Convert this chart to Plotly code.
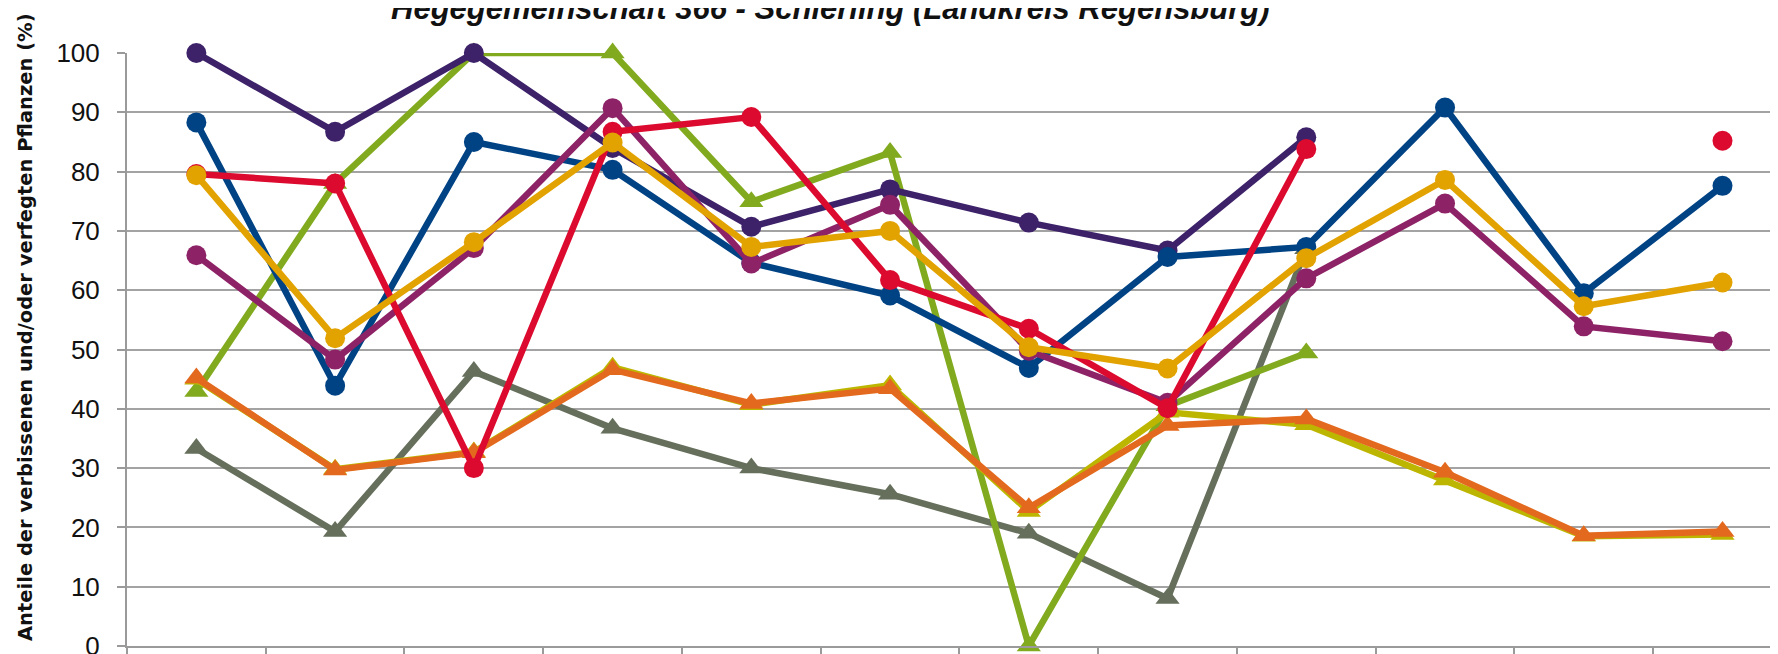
import plotly.graph_objects as go

categories = ["1991", "1994", "1997", "2000", "2003", "2006", "2009", "2012", "2015", "2018", "2021", "2024"]

gray_vals = [33.3, 19.3, 46.3, 36.7, 30.0, 25.6, 19.0, 8.0, 67.0, None, None, None]
green_vals = [42.9, 78.0, 100, 100, 74.9, 83.2, 0, 40.5, 49.4, None, None, None]
olive_vals = [45.0, 29.8, 32.7, 47.0, 40.7, 44.0, 22.7, 39.4, 37.3, 28.0, 18.5, 18.8]
orange_vals = [45.2, 29.7, 32.6, 46.6, 40.9, 43.4, 23.3, 37.2, 38.3, 29.3, 18.6, 19.3]
darkpurple_vals = [100, 86.7, 100, 84.0, 70.7, 77.0, 71.4, 66.7, 85.8, None, None, None]
blue_vals = [88.3, 43.9, 85.0, 80.3, 64.6, 59.1, 46.9, 65.6, 67.3, 90.8, 59.5, 77.6]
magenta_vals = [65.9, 48.3, 67.1, 90.7, 64.5, 74.4, 49.8, 41.0, 62.0, 74.6, 53.9, 51.4]
red_vals = [79.6, 78.0, 30.0, 86.7, 89.2, 61.7, 53.5, 40.1, 83.8, None, None, 85.2]
yellow_vals = [79.4, 51.9, 68.1, 84.9, 67.3, 70.0, 50.4, 46.8, 65.4, 78.6, 57.3, 61.3]

title_text = "Hegegemeinschaft 366 - Schierling (Landkreis Regensburg)"
ytitle_text = "Anteile der verbissenen und/oder verfegten Pflanzen (%)"

series = [
    (gray_vals, "#656F5B", "triangle-up"),
    (green_vals, "#82AA1E", "triangle-up"),
    (olive_vals, "#BDB600", "triangle-up"),
    (orange_vals, "#E3691E", "triangle-up"),
    (darkpurple_vals, "#3D2169", "circle"),
    (blue_vals, "#004385", "circle"),
    (magenta_vals, "#8E2266", "circle"),
    (red_vals, "#DC0A2E", "circle"),
    (yellow_vals, "#E2A300", "circle"),
]

fig = go.Figure()
for vals, color, sym in series:
    fig.add_trace(go.Scatter(
        x=categories, y=vals, mode="lines+markers",
        line=dict(color=color, width=6.5),
        marker=dict(color=color, symbol=sym, size=20 if sym == "circle" else 21),
        cliponaxis=False, connectgaps=False, showlegend=False,
    ))

# page body has an 8px margin: figure is 1770x646, drawn at (8, 8)
fig.update_layout(
    width=1770, height=646,
    margin=dict(l=119, r=0, t=45, b=8, autoexpand=False),
    paper_bgcolor="white", plot_bgcolor="white",
    showlegend=False,
)
fig.update_xaxes(
    type="category", range=[-0.5, 11.40], showgrid=False,
    showline=True, linecolor="#9A9A9A", linewidth=2,
    ticks="outside", tickson="boundaries", ticklen=8, tickcolor="#9A9A9A", tickwidth=1.5,
    showticklabels=False,
)
fig.update_yaxes(
    range=[0, 100], dtick=10, showgrid=True, gridcolor="#A3A3A3", gridwidth=2,
    showline=True, linecolor="#9A9A9A", linewidth=2, zeroline=False,
    ticks="outside", ticklen=8, tickcolor="#9A9A9A", tickwidth=1.5,
    ticklabelstandoff=12, ticklabeloverflow="allow",
    tickfont=dict(family="Liberation Sans, sans-serif", size=26, color="#111111"),
)
fig.add_annotation(
    text="<b><i>" + title_text + "</i></b>", xref="paper", yref="paper",
    x=(830 - 127) / 1651, y=1 + (53 - 9) / 593, xanchor="center", yanchor="middle",
    showarrow=False,
    font=dict(family="Liberation Sans, sans-serif", size=31, color="#111111"),
)
fig.add_annotation(
    text="<b>" + ytitle_text + "</b>", xref="paper", yref="paper",
    x=(25 - 127) / 1651, y=(646 - 327) / 593, xanchor="center", yanchor="middle",
    textangle=-90, showarrow=False,
    font=dict(family="DejaVu Sans, sans-serif", size=19.5, color="#111111"),
)
fig.write_html("out.html")
